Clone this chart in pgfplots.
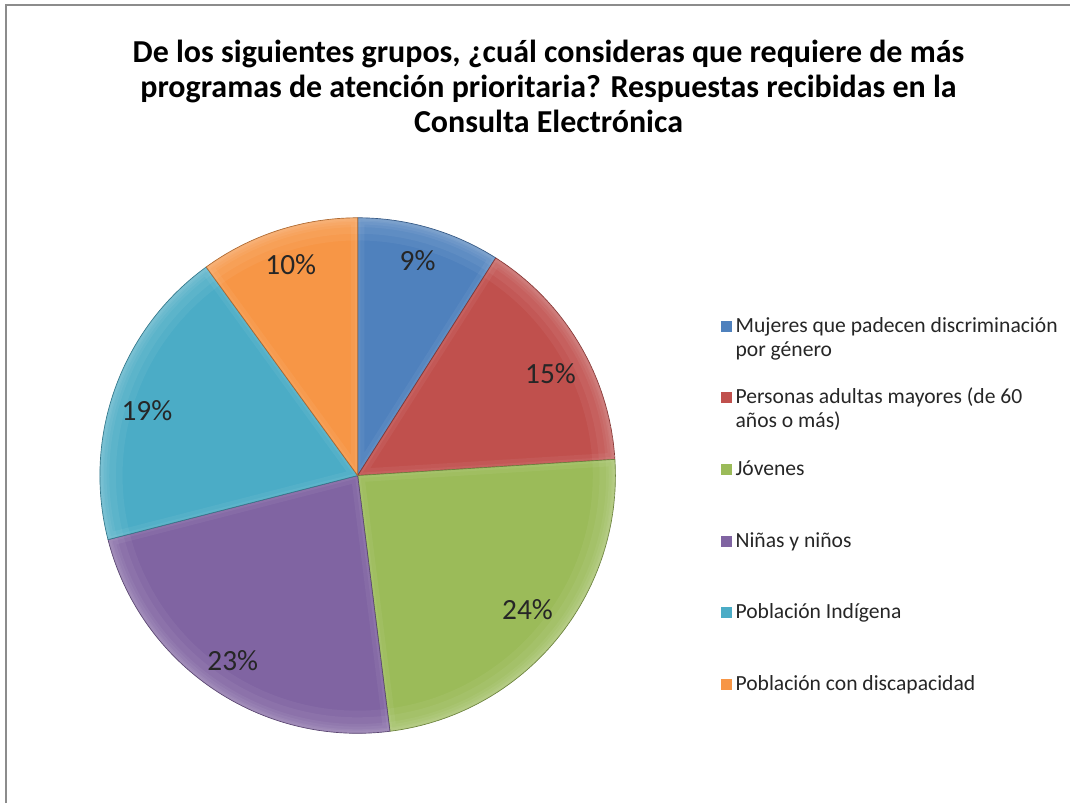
\documentclass[border=0pt]{standalone}
\usepackage{pgfplots}
\usepackage{pgfplotstable}
\pgfplotsset{compat=1.18}
\usepackage{fontspec}
\setmainfont{Carlito}

\definecolor{cA}{HTML}{4F81BD}
\definecolor{cB}{HTML}{C0504D}
\definecolor{cC}{HTML}{9BBB59}
\definecolor{cD}{HTML}{8064A2}
\definecolor{cE}{HTML}{4BACC6}
\definecolor{cF}{HTML}{F79646}

% share (%), colour, label position (px, y up)
\pgfplotstableread{
val col lx ly
9  cA 418 543
15 cB 551 430
24 cC 528 194
23 cD 233 143
19 cE 147 393
10 cF 291 539
}\pie

\newcommand\labelfont{\fontsize{22}{26}\selectfont}
\newcommand\titlefont{\fontsize{24}{28}\selectfont\bfseries}

\begin{document}
\begin{tikzpicture}
\begin{axis}[x=0.75pt, y=0.75pt, xmin=0, xmax=1071, ymin=0, ymax=804,
  hide axis, clip=false, scale only axis]
\path (axis cs:0,0) rectangle (axis cs:1071,804);
\draw[black!45, line width=1.5pt] (axis cs:6,0) -- (axis cs:6,799) -- (axis cs:1071,799);

% title
\node[font=\titlefont, anchor=base] at (axis cs:549,741)
  {De los siguientes grupos, ¿cuál consideras que requiere de más};
\node[font=\titlefont, anchor=base] at (axis cs:549,706)
  {programas de atención prioritaria? Respuestas recibidas en la};
\node[font=\titlefont, anchor=base] at (axis cs:549,671)
  {Consulta Electrónica};

% slices
\pgfplotstablegetrowsof{\pie}
\pgfmathtruncatemacro\N{\pgfplotsretval-1}
\def\cum{0}
\pgfplotsforeachungrouped \i in {0,...,\N}{%
  \pgfplotstablegetelem{\i}{val}\of{\pie}\let\v\pgfplotsretval
  \pgfplotstablegetelem{\i}{col}\of{\pie}\let\c\pgfplotsretval
  \pgfplotstablegetelem{\i}{lx}\of{\pie}\let\lx\pgfplotsretval
  \pgfplotstablegetelem{\i}{ly}\of{\pie}\let\ly\pgfplotsretval
  \pgfmathsetmacro\a{90-3.6*\cum}
  \pgfmathsetmacro\b{90-3.6*(\cum+\v)}
  \edef\arcpath{([shift={(\a:193.5pt)}]axis cs:358,328) arc[start angle=\a, end angle=\b, radius=193.5pt]}
  \edef\slicepath{(axis cs:358,328) -- \arcpath -- cycle}
  \edef\temp{\noexpand\pgfplotsextra{%
    \noexpand\begin{scope}
    \noexpand\clip \slicepath;
    \noexpand\fill[\c] \slicepath;
    \noexpand\draw[white, opacity=.05, line width=34pt] \arcpath;
    \noexpand\draw[white, opacity=.05, line width=24pt] \arcpath;
    \noexpand\draw[white, opacity=.05, line width=14pt] \arcpath;
    \noexpand\draw[white, opacity=.05, line width=6pt] \arcpath;
    \noexpand\draw[white, opacity=.05, line width=10pt] \slicepath;
    \noexpand\draw[white, opacity=.05, line width=4pt] \slicepath;
    \noexpand\end{scope}
    \noexpand\draw[\c!70!black, line width=.5pt, line join=round] \slicepath;
    \noexpand\node[font=\noexpand\labelfont, text=black!85, inner sep=0pt] at (axis cs:\lx,\ly) {\v\noexpand\%};
  }}\temp
  \pgfmathsetmacro\cum{\cum+\v}
}

% legend
\begin{scope}[every node/.style={font=\fontsize{16.2}{19}\selectfont, anchor=base west, inner sep=0pt, text=black!85}]
\fill[cA] (axis cs:721.5,471.5) rectangle (axis cs:732.5,482.5);
\node at (axis cs:736,471) {Mujeres que padecen discriminación};
\node at (axis cs:736,447) {por género};
\fill[cB] (axis cs:721.5,400.5) rectangle (axis cs:732.5,411.5);
\node at (axis cs:736,400) {Personas adultas mayores (de 60};
\node at (axis cs:736,376) {años o más)};
\fill[cC] (axis cs:721.5,328.5) rectangle (axis cs:732.5,339.5);
\node at (axis cs:736,328) {Jóvenes};
\fill[cD] (axis cs:721.5,256.5) rectangle (axis cs:732.5,267.5);
\node at (axis cs:736,256) {Niñas y niños};
\fill[cE] (axis cs:721.5,185.5) rectangle (axis cs:732.5,196.5);
\node at (axis cs:736,185) {Población Indígena};
\fill[cF] (axis cs:721.5,113.5) rectangle (axis cs:732.5,124.5);
\node at (axis cs:736,113) {Población con discapacidad};
\end{scope}
\end{axis}
\end{tikzpicture}
\end{document}
